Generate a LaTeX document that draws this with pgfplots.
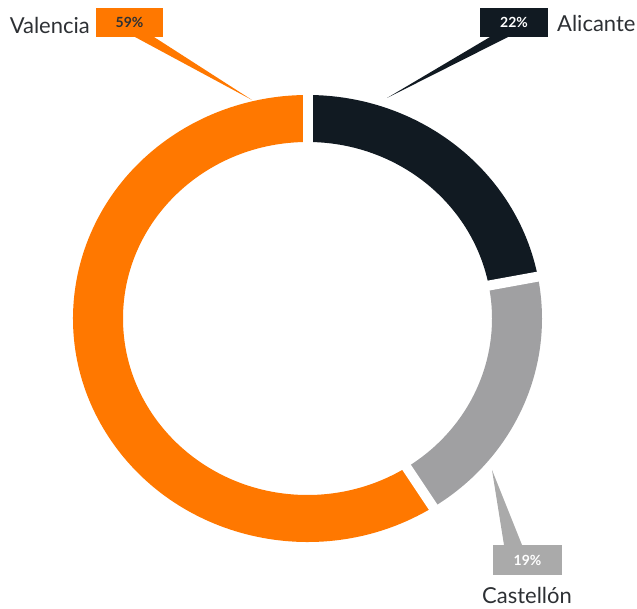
\documentclass[border=0pt]{standalone}
\usepackage{pgfplots}
\pgfplotsset{compat=1.18}
\usepackage{pgfplotstable}
\usepackage{fontspec}
\setmainfont{Lato}
\definecolor{navy0}{RGB}{17,26,34}
\definecolor{gray0}{RGB}{160,160,162}
\definecolor{graybox}{RGB}{170,170,170}
\definecolor{orange0}{RGB}{255,120,0}
\definecolor{ink}{RGB}{45,48,52}

% shares in percent, clockwise from 12 o'clock
\pgfplotstableread{
name value
Alicante 22
Castellon 19
Valencia 59
}\shares

\begin{document}
\begin{tikzpicture}
% read the three shares and turn them into boundary angles
\pgfplotstablegetelem{0}{value}\of\shares \let\vA\pgfplotsretval
\pgfplotstablegetelem{1}{value}\of\shares \let\vB\pgfplotsretval
\pgfplotstablegetelem{2}{value}\of\shares \let\vC\pgfplotsretval
\pgfmathsetmacro\aO{90}
\pgfmathsetmacro\aA{\aO-3.6*\vA}
\pgfmathsetmacro\aB{\aA-3.6*\vB}
\pgfmathsetmacro\aC{\aB-3.6*\vC}
% ring geometry (1 unit = 1pt)
\def\cx{307.5}\def\cy{289.5}
\def\rx{234.5}\def\ry{223.5}
\def\ix{184.5}\def\iy{176.5}
\newcommand{\seg}[3]{%
  \fill[#1] (axis cs:{\cx+\rx*cos(#2)},{\cy+\ry*sin(#2)})
    arc[start angle=#2,end angle=#3,x radius=\rx pt,y radius=\ry pt]
    -- (axis cs:{\cx+\ix*cos(#3)},{\cy+\iy*sin(#3)})
    arc[start angle=#3,end angle=#2,x radius=\ix pt,y radius=\iy pt] -- cycle;}
\newcommand{\gap}[1]{%
  \draw[white,line width=10pt] (axis cs:\cx,\cy)
    -- (axis cs:{\cx+1.1*\rx*cos(#1)},{\cy+1.1*\ry*sin(#1)});}
\begin{axis}[scale only axis,width=637pt,height=608pt,
  xmin=0,xmax=637,ymin=0,ymax=608,hide axis,clip=false]
\seg{navy0}{\aO}{\aA}
\seg{gray0}{\aA}{\aB}
\seg{orange0}{\aB}{\aC}
\gap{\aO}\gap{\aA}\gap{\aB}
% callout wedges
\fill[orange0] (axis cs:135,571) -- (axis cs:154,571) -- (axis cs:252,508) -- cycle;
\fill[navy0] (axis cs:490,571) -- (axis cs:508,571) -- (axis cs:387,510) -- cycle;
\fill[graybox] (axis cs:504,63) -- (axis cs:522,63) -- (axis cs:492,138) -- cycle;
% callout boxes
\node[fill=orange0,minimum width=67pt,minimum height=29pt,inner sep=0pt,
  font=\fontsize{14}{16}\selectfont\bfseries,text=ink] at (axis cs:129.5,585.5) {59\%};
\node[fill=navy0,minimum width=68pt,minimum height=29pt,inner sep=0pt,
  font=\fontsize{14}{16}\selectfont\bfseries,text=white] at (axis cs:514,585.5) {22\%};
\node[fill=graybox,minimum width=69pt,minimum height=30pt,inner sep=0pt,
  font=\fontsize{14}{16}\selectfont\bfseries,text=white] at (axis cs:527.5,48) {19\%};
% names
\node[anchor=base east,inner sep=0pt,text=ink,font=\fontsize{22}{26}\selectfont]
  at (axis cs:90,574) {Valencia};
\node[anchor=base west,inner sep=0pt,text=ink,font=\fontsize{22}{26}\selectfont]
  at (axis cs:557,576) {Alicante};
\node[anchor=base,inner sep=0pt,text=ink,font=\fontsize{22}{26}\selectfont]
  at (axis cs:527,5) {Castellón};
\end{axis}
\pgfresetboundingbox
\path (current axis.south west) rectangle (current axis.north east);
\end{tikzpicture}
\end{document}
